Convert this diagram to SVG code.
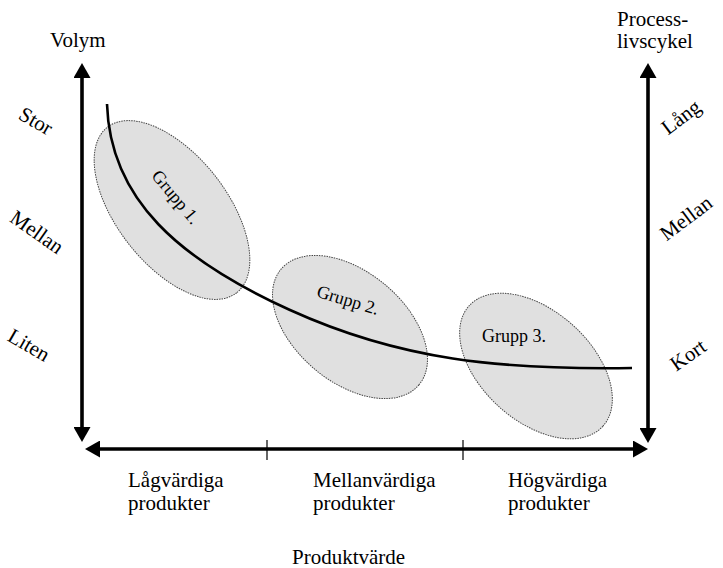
<svg xmlns="http://www.w3.org/2000/svg" width="723" height="568" viewBox="0 0 723 568">
<style>
text{font-family:"Liberation Serif","Times New Roman",serif;font-size:21px;fill:#000}
.grp{font-size:18px}
.ell{fill:#e0e0e0;stroke:#444;stroke-width:1;stroke-dasharray:1.5 1}
.axis{stroke:#000;stroke-width:3.6;fill:none}
.tick{stroke:#000;stroke-width:1.2}
.curve{stroke:#000;stroke-width:2.6;fill:none}
</style>
<defs>
<marker id="ah" markerUnits="userSpaceOnUse" markerWidth="16" markerHeight="17" refX="5" refY="8.5" orient="auto-start-reverse" viewBox="0 0 16 17">
<path d="M0,0 L15,8.5 L0,17 z" fill="#000"/>
</marker>
</defs>
<rect width="723" height="568" fill="#fff"/>
<g id="group1">
<ellipse class="ell" cx="172" cy="210" rx="105" ry="55" transform="rotate(52 172 210)"/>
<text class="grp" x="176" y="203" text-anchor="middle" transform="rotate(50 176 197)">Grupp 1.</text>
</g>
<g id="group2">
<ellipse class="ell" cx="350" cy="327" rx="90" ry="55" transform="rotate(40 350 327)"/>
<text class="grp" x="348" y="306" text-anchor="middle" transform="rotate(17 348 300)">Grupp 2.</text>
</g>
<g id="group3">
<ellipse class="ell" cx="536" cy="366" rx="90" ry="55" transform="rotate(42 536 366)"/>
<text class="grp" x="482" y="342">Grupp 3.</text>
</g>
<g id="connectors">
<line class="axis" x1="82" y1="73" x2="82" y2="432" marker-start="url(#ah)" marker-end="url(#ah)"/>
<line class="axis" x1="648" y1="73" x2="648" y2="433" marker-start="url(#ah)" marker-end="url(#ah)"/>
<line class="axis" x1="95" y1="449" x2="638" y2="449" marker-start="url(#ah)" marker-end="url(#ah)"/>
<line class="tick" x1="267" y1="440" x2="267" y2="460"/>
<line class="tick" x1="463" y1="440" x2="463" y2="460"/>
<path class="curve" d="M107,104 C110,200 180,260 290,310 C400,360 500,370 632,368"/>
</g>
<g id="labels">
<text x="50" y="47">Volym</text>
<text x="617" y="26">Process-</text>
<text x="617" y="48">livscykel</text>
<text x="36" y="128" text-anchor="middle" transform="rotate(30 36 121)">Stor</text>
<text x="37" y="239" text-anchor="middle" transform="rotate(35 37 232)">Mellan</text>
<text x="29" y="352" text-anchor="middle" transform="rotate(30 29 345)">Liten</text>
<text x="681" y="124" text-anchor="middle" transform="rotate(-37 681 117)">Lång</text>
<text x="686" y="225" text-anchor="middle" transform="rotate(-37 686 218)">Mellan</text>
<text x="688" y="362" text-anchor="middle" transform="rotate(-35 688 355)">Kort</text>
<text x="128" y="487">Lågvärdiga</text>
<text x="128" y="510">produkter</text>
<text x="313" y="487">Mellanvärdiga</text>
<text x="313" y="510">produkter</text>
<text x="508" y="487">Högvärdiga</text>
<text x="508" y="510">produkter</text>
<text x="292" y="564">Produktvärde</text>
</g>
</svg>
